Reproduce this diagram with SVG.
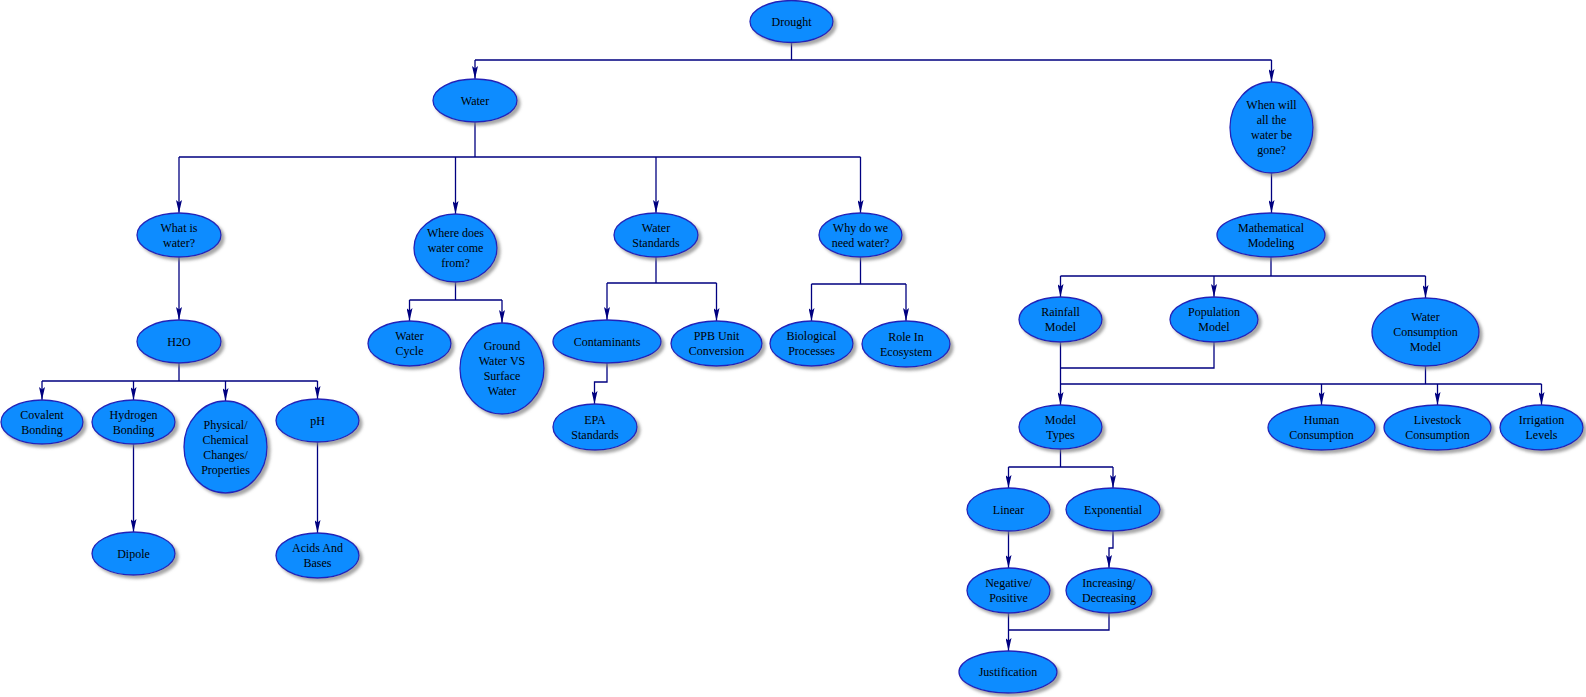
<svg xmlns="http://www.w3.org/2000/svg" width="1586" height="697" viewBox="0 0 1586 697">
<style>
.n ellipse{fill:#0A8CFF;stroke:#2424B8;stroke-width:1.3;filter:url(#sh)}
.n text{font-family:"Liberation Serif","Times New Roman",serif;font-size:12px;fill:#000;text-anchor:middle}
#connectors path{fill:none;stroke:#000080;stroke-width:1.3}
#connectors path.a{marker-end:url(#arr)}
</style>
<defs>
<filter id="sh" x="-20%" y="-20%" width="150%" height="150%">
<feDropShadow dx="3" dy="3" stdDeviation="1.5" flood-color="#808080" flood-opacity="0.7"/>
</filter>
<marker id="arr" markerUnits="userSpaceOnUse" viewBox="0 0 13 6" markerWidth="13" markerHeight="6" refX="13" refY="3" orient="auto">
<path d="M0,0 L13,3 L0,6 L2.5,3 z" fill="#000080"/>
</marker>
</defs>
<rect width="1586" height="697" fill="#fff"/>
<g id="connectors">
<path d="M791.5,42.5 V60 M475,60 H1271.5"/>
<path class="a" d="M475,60 V79"/>
<path class="a" d="M1271.5,60 V82"/>
<path d="M475,122 V157 M179,157 H860.5"/>
<path class="a" d="M179,157 V213"/>
<path class="a" d="M455.5,157 V214"/>
<path class="a" d="M656,157 V213"/>
<path class="a" d="M860.5,157 V213"/>
<path class="a" d="M179,257 V320"/>
<path d="M179,363 V381 M42,381 H317.5"/>
<path class="a" d="M42,381 V400"/>
<path class="a" d="M133.5,381 V400"/>
<path class="a" d="M225.5,381 V401"/>
<path class="a" d="M317.5,381 V399"/>
<path class="a" d="M133.5,444 V532"/>
<path class="a" d="M317.5,442 V533"/>
<path d="M455.5,282 V300 M409.5,300 H502"/>
<path class="a" d="M409.5,300 V321"/>
<path class="a" d="M502,300 V323"/>
<path d="M656,257 V283 M607,283 H716.5"/>
<path class="a" d="M607,283 V320"/>
<path class="a" d="M716.5,283 V321"/>
<path class="a" d="M607,363 V382 H594.5 V404"/>
<path d="M860.5,257 V284 M811.5,284 H906"/>
<path class="a" d="M811.5,284 V321"/>
<path class="a" d="M906,284 V321"/>
<path class="a" d="M1271.5,173 V213"/>
<path d="M1271,257 V276 M1060.5,276 H1425.5"/>
<path class="a" d="M1060.5,276 V297"/>
<path class="a" d="M1214,276 V297"/>
<path class="a" d="M1425.5,276 V298"/>
<path d="M1060.5,342 V384 M1214,342 V368 H1060.5 M1425.5,366 V384 M1060.5,384 H1541.5"/>
<path class="a" d="M1060.5,384 V405"/>
<path class="a" d="M1321.5,384 V405"/>
<path class="a" d="M1437.5,384 V405"/>
<path class="a" d="M1541.5,384 V405"/>
<path d="M1060.5,449 V467 M1008.5,467 H1113"/>
<path class="a" d="M1008.5,467 V488"/>
<path class="a" d="M1113,467 V488"/>
<path class="a" d="M1008.5,531 V568"/>
<path class="a" d="M1113,531 V548 H1109 V568"/>
<path d="M1109,613 V630 H1008.5 M1008.5,613 V630"/>
<path class="a" d="M1008.5,630 V651"/>
</g>
<g id="drought" class="n"><ellipse cx="791.5" cy="21.5" rx="41.5" ry="21"/><text x="791.5" y="25.5">Drought</text></g>
<g id="water" class="n"><ellipse cx="475" cy="100.5" rx="42" ry="21.5"/><text x="475" y="104.5">Water</text></g>
<g id="when" class="n"><ellipse cx="1271.5" cy="127.5" rx="41.5" ry="45.5"/><text x="1271.5" y="109">When will</text><text x="1271.5" y="124">all the</text><text x="1271.5" y="139">water be</text><text x="1271.5" y="154">gone?</text></g>
<g id="whatis" class="n"><ellipse cx="179" cy="235" rx="42" ry="22"/><text x="179" y="231.5">What is</text><text x="179" y="246.5">water?</text></g>
<g id="h2o" class="n"><ellipse cx="179" cy="341.5" rx="42" ry="21.5"/><text x="179" y="345.5">H2O</text></g>
<g id="wheredoes" class="n"><ellipse cx="455.5" cy="248" rx="41.5" ry="34"/><text x="455.5" y="237">Where does</text><text x="455.5" y="252">water come</text><text x="455.5" y="267">from?</text></g>
<g id="standards" class="n"><ellipse cx="656" cy="235" rx="42" ry="22"/><text x="656" y="231.5">Water</text><text x="656" y="246.5">Standards</text></g>
<g id="why" class="n"><ellipse cx="860.5" cy="235" rx="41.5" ry="22"/><text x="860.5" y="231.5">Why do we</text><text x="860.5" y="246.5">need water?</text></g>
<g id="mathmod" class="n"><ellipse cx="1271" cy="235" rx="54" ry="22"/><text x="1271" y="231.5">Mathematical</text><text x="1271" y="246.5">Modeling</text></g>
<g id="covalent" class="n"><ellipse cx="42" cy="422" rx="41" ry="22"/><text x="42" y="418.5">Covalent</text><text x="42" y="433.5">Bonding</text></g>
<g id="hydrogen" class="n"><ellipse cx="133.5" cy="422" rx="41.5" ry="22"/><text x="133.5" y="418.5">Hydrogen</text><text x="133.5" y="433.5">Bonding</text></g>
<g id="physical" class="n"><ellipse cx="225.5" cy="447" rx="41.5" ry="46"/><text x="225.5" y="428.5">Physical/</text><text x="225.5" y="443.5">Chemical</text><text x="225.5" y="458.5">Changes/</text><text x="225.5" y="473.5">Properties</text></g>
<g id="ph" class="n"><ellipse cx="317.5" cy="420.5" rx="41.5" ry="21.5"/><text x="317.5" y="424.5">pH</text></g>
<g id="dipole" class="n"><ellipse cx="133.5" cy="553.5" rx="41.5" ry="21.5"/><text x="133.5" y="557.5">Dipole</text></g>
<g id="acids" class="n"><ellipse cx="317.5" cy="555.5" rx="41.5" ry="22.5"/><text x="317.5" y="552">Acids And</text><text x="317.5" y="567">Bases</text></g>
<g id="watercycle" class="n"><ellipse cx="409.5" cy="343.5" rx="41.5" ry="22.5"/><text x="409.5" y="340">Water</text><text x="409.5" y="355">Cycle</text></g>
<g id="ground" class="n"><ellipse cx="502" cy="368.5" rx="42" ry="45.5"/><text x="502" y="350">Ground</text><text x="502" y="365">Water VS</text><text x="502" y="380">Surface</text><text x="502" y="395">Water</text></g>
<g id="contaminants" class="n"><ellipse cx="607" cy="341.5" rx="54" ry="21.5"/><text x="607" y="345.5">Contaminants</text></g>
<g id="ppb" class="n"><ellipse cx="716.5" cy="343.5" rx="45.5" ry="22.5"/><text x="716.5" y="340">PPB Unit</text><text x="716.5" y="355">Conversion</text></g>
<g id="epa" class="n"><ellipse cx="595" cy="427" rx="42" ry="23"/><text x="595" y="423.5">EPA</text><text x="595" y="438.5">Standards</text></g>
<g id="biological" class="n"><ellipse cx="811.5" cy="343.5" rx="41.5" ry="22.5"/><text x="811.5" y="340">Biological</text><text x="811.5" y="355">Processes</text></g>
<g id="role" class="n"><ellipse cx="906" cy="344" rx="44" ry="23"/><text x="906" y="340.5">Role In</text><text x="906" y="355.5">Ecosystem</text></g>
<g id="rainfall" class="n"><ellipse cx="1060.5" cy="319.5" rx="41.5" ry="22.5"/><text x="1060.5" y="316">Rainfall</text><text x="1060.5" y="331">Model</text></g>
<g id="population" class="n"><ellipse cx="1214" cy="319.5" rx="44" ry="22.5"/><text x="1214" y="316">Population</text><text x="1214" y="331">Model</text></g>
<g id="wcm" class="n"><ellipse cx="1425.5" cy="332" rx="53.5" ry="34"/><text x="1425.5" y="321">Water</text><text x="1425.5" y="336">Consumption</text><text x="1425.5" y="351">Model</text></g>
<g id="modeltypes" class="n"><ellipse cx="1060.5" cy="427" rx="41.5" ry="22"/><text x="1060.5" y="423.5">Model</text><text x="1060.5" y="438.5">Types</text></g>
<g id="human" class="n"><ellipse cx="1321.5" cy="427.5" rx="53.5" ry="22.5"/><text x="1321.5" y="424">Human</text><text x="1321.5" y="439">Consumption</text></g>
<g id="livestock" class="n"><ellipse cx="1437.5" cy="427.5" rx="53.5" ry="22.5"/><text x="1437.5" y="424">Livestock</text><text x="1437.5" y="439">Consumption</text></g>
<g id="irrigation" class="n"><ellipse cx="1541.5" cy="427.5" rx="41.5" ry="22.5"/><text x="1541.5" y="424">Irrigation</text><text x="1541.5" y="439">Levels</text></g>
<g id="linear" class="n"><ellipse cx="1008.5" cy="509.5" rx="41.5" ry="21.5"/><text x="1008.5" y="513.5">Linear</text></g>
<g id="exponential" class="n"><ellipse cx="1113" cy="509.5" rx="47" ry="21.5"/><text x="1113" y="513.5">Exponential</text></g>
<g id="negative" class="n"><ellipse cx="1008.5" cy="590.5" rx="41.5" ry="22.5"/><text x="1008.5" y="587">Negative/</text><text x="1008.5" y="602">Positive</text></g>
<g id="increasing" class="n"><ellipse cx="1109" cy="590.5" rx="43" ry="22.5"/><text x="1109" y="587">Increasing/</text><text x="1109" y="602">Decreasing</text></g>
<g id="justification" class="n"><ellipse cx="1008" cy="672" rx="49" ry="21"/><text x="1008" y="676">Justification</text></g>
</svg>
